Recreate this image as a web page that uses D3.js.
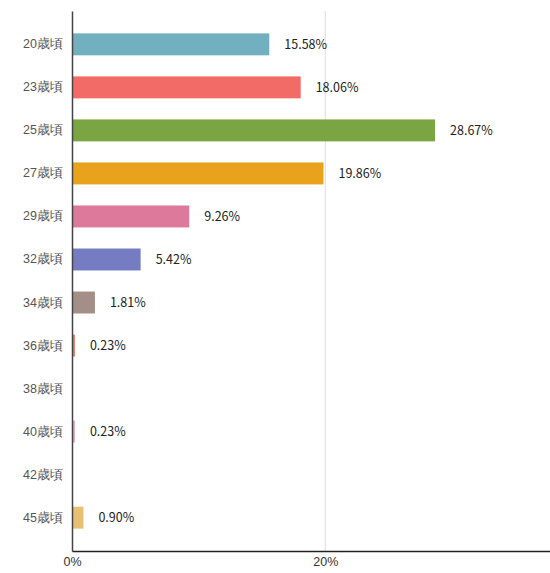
<!DOCTYPE html>
<html lang="ja">
  <head>
    <meta charset="UTF-8" />
    <title>年齢分布</title>
    <script src="https://d3js.org/d3.v7.min.js"></script>
    <style>
      body { margin: 0; background: #fff; }
      svg { display: block; font-family: "Noto Sans CJK JP", "Noto Sans", sans-serif; }
    </style>
  </head>
  <body>
    <script>
      const categories = ["20歳頃", "23歳頃", "25歳頃", "27歳頃", "29歳頃", "32歳頃",
        "34歳頃", "36歳頃", "38歳頃", "40歳頃", "42歳頃", "45歳頃"];
      const values = [15.58, 18.06, 28.67, 19.86, 9.26, 5.42, 1.81, 0.23, 0, 0.23, 0, 0.9];
      const colors = ["#72b0bf", "#f26b67", "#7ba443", "#e9a21b", "#dd7a9c", "#767cc1",
        "#a38f88", "#dc7f6c", "#cccccc", "#e9a6be", "#cccccc", "#e7c074"];
      const xTicks = [0, 20];

      const width = 550;
      const height = 573;
      const marginLeft = 72, plotTop = 11, plotBottom = 551;

      const rows = categories.map((c, i) => ({ cat: c, value: values[i], color: colors[i] }));

      const svg = d3.select("body").append("svg")
        .attr("width", width)
        .attr("height", height);

      // the axis runs on past the right edge (40% would sit just outside)
      const x = d3.scaleLinear().domain([0, 40]).range([marginLeft, marginLeft + 506.5]);
      const y = d3.scaleBand().domain(categories).range([plotTop, plotBottom])
        .paddingInner(0.49).paddingOuter(0.52);

      // grid lines
      svg.append("g")
        .selectAll("line")
        .data(xTicks.filter((d) => d > 0))
        .join("line")
        .attr("x1", (d) => x(d)).attr("x2", (d) => x(d))
        .attr("y1", plotTop).attr("y2", plotBottom)
        .attr("stroke", "#dddddd");

      // bars
      svg.append("g")
        .selectAll("rect")
        .data(rows)
        .join("rect")
        .attr("x", x(0))
        .attr("y", (d) => y(d.cat))
        .attr("width", (d) => x(d.value) - x(0))
        .attr("height", y.bandwidth())
        .attr("fill", (d) => d.color);

      // value labels
      svg.append("g")
        .selectAll("text")
        .data(rows.filter((d) => d.value > 0))
        .join("text")
        .attr("x", (d) => x(d.value) + 15)
        .attr("y", (d) => y(d.cat) + y.bandwidth() / 2)
        .attr("dy", "0.35em")
        .attr("font-size", 12.5)
        .attr("fill", "#222")
        .text((d) => d.value.toFixed(2) + "%");

      // y axis
      const yAxis = svg.append("g")
        .attr("transform", `translate(${marginLeft},0)`)
        .call(d3.axisLeft(y).tickSize(0).tickPadding(9));
      yAxis.select(".domain").attr("stroke", "#444").attr("stroke-width", 1.5);
      yAxis.selectAll("text").attr("font-size", 12.5).attr("fill", "#555")
        .style("font-family", "inherit");

      // x axis
      const xAxis = svg.append("g")
        .attr("transform", `translate(0,${plotBottom})`)
        .call(d3.axisBottom(x).tickValues(xTicks).tickSize(0).tickPadding(6)
          .tickFormat((d) => d + "%"));
      xAxis.select(".domain").attr("stroke", "#222").attr("stroke-width", 1.5);
      xAxis.selectAll("text").attr("font-size", 12.5).attr("fill", "#333")
        .style("font-family", "inherit");
    </script>
  </body>
</html>
